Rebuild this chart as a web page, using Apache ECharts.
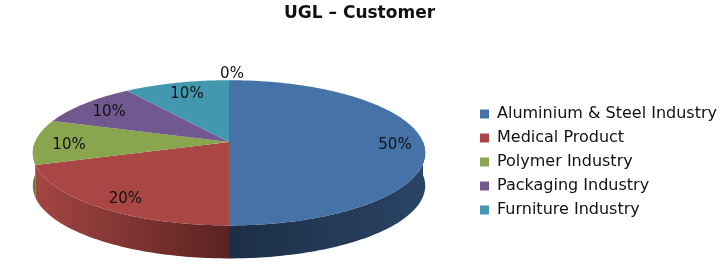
<!DOCTYPE html>
<html><head><meta charset="utf-8">
<script src="https://cdn.jsdelivr.net/npm/echarts@6/dist/echarts.min.js"></script>
<style>html,body{margin:0;padding:0;background:#fff}#c{width:724px;height:269px}</style>
</head><body><div id="c"></div>
<script>
const categories = ['Aluminium & Steel Industry','Medical Product','Polymer Industry','Packaging Industry','Furniture Industry','Other'];
const values = [50, 20, 10, 10, 10, 0];
const legendNames = ['Aluminium & Steel Industry','Medical Product','Polymer Industry','Packaging Industry','Furniture Industry'];
const titleText = 'UGL \u2013 Customer';

const topColors = ['#4572A7','#AA4643','#89A54E','#71588F','#4198AF','#DB843D'];
const sideColors = [['#1c2e46','#2a4464'],['#a34543','#5a2321'],['#6d8a3a','#55702b'],['#574470','#45365a'],['#2f7388','#255b6b'],['#a0612b','#80491f']];

const FONT = '"DejaVu Sans", sans-serif';
const cx = 229, cy = 142, rx = 194, ry = 71, kp = 0.149, depth = 33;
const total = values.reduce((a,b)=>a+b,0);

function proj(theta, f) {
  const X = Math.sin(theta) * f, Z = Math.cos(theta) * f;
  const s = 1 / (1 + kp * Z);
  return [cx + rx * X * s, cy - ry * Z * s];
}

function renderItem(params, api) {
  const i = params.dataIndex;
  let before = 0;
  for (let j = 0; j < i; j++) before += values[j];
  const a = before / total * Math.PI * 2;
  const b = (before + values[i]) / total * Math.PI * 2;
  const children = [];
  if (values[i] > 0) {
    const sa = Math.max(a, Math.PI / 2), sb = Math.min(b, Math.PI * 1.5);
    if (sb > sa) {
      const topPts = [], botPts = [];
      const n = Math.max(2, Math.ceil((sb - sa) / (Math.PI / 180)));
      for (let t = 0; t <= n; t++) {
        const p = proj(sa + (sb - sa) * t / n, 1);
        topPts.push(p);
        botPts.push([p[0], p[1] + depth]);
      }
      const pts = topPts.concat(botPts.reverse());
      children.push({
        type: 'polygon', z2: 1,
        shape: { points: pts },
        style: { fill: { type: 'linear', x: 0, y: 0, x2: 1, y2: 0,
          colorStops: [{ offset: 0, color: sideColors[i][0] }, { offset: 1, color: sideColors[i][1] }] } }
      });
    }
    const pts = [[cx, cy]];
    const n = Math.max(2, Math.ceil((b - a) / (Math.PI / 180)));
    for (let t = 0; t <= n; t++) pts.push(proj(a + (b - a) * t / n, 1));
    children.push({ type: 'polygon', z2: 2, shape: { points: pts }, style: { fill: topColors[i] } });
  }
  const mid = (a + b) / 2;
  const lp = proj(mid, values[i] > 0 ? 0.84 : 1.18);
  children.push({
    type: 'text', z2: 5,
    style: { text: Math.round(values[i] / total * 100) + '%', x: lp[0] + 3, y: lp[1] + 3,
      align: 'center', verticalAlign: 'middle', fill: '#111', font: '15px ' + FONT }
  });
  return { type: 'group', children: children };
}

const chart = echarts.init(document.getElementById('c'));
chart.setOption({
  backgroundColor: '#fff',
  animation: false,
  title: { text: titleText, left: 279, top: 0,
    textStyle: { fontSize: 17, fontWeight: 'bold', color: '#111', fontFamily: FONT } },
  legend: {
    data: legendNames, orient: 'vertical', left: 480, top: 106, padding: 0,
    icon: 'rect', itemWidth: 9, itemHeight: 9, itemGap: 8, selectedMode: false,
    textStyle: { fontSize: 16, lineHeight: 16, color: '#111', fontFamily: FONT, padding: [0,0,0,3] }
  },
  series: [
    { type: 'pie', silent: true, center: [-200, -200], radius: [0, 1],
      label: { show: false }, labelLine: { show: false },
      data: categories.map((c, i) => ({ name: c, value: values[i], itemStyle: { color: topColors[i] } })) },
    { type: 'custom', coordinateSystem: 'none', silent: true,
      renderItem: renderItem,
      data: categories.map((c, i) => ({ name: c, value: values[i] })) }
  ]
});
</script></body></html>
